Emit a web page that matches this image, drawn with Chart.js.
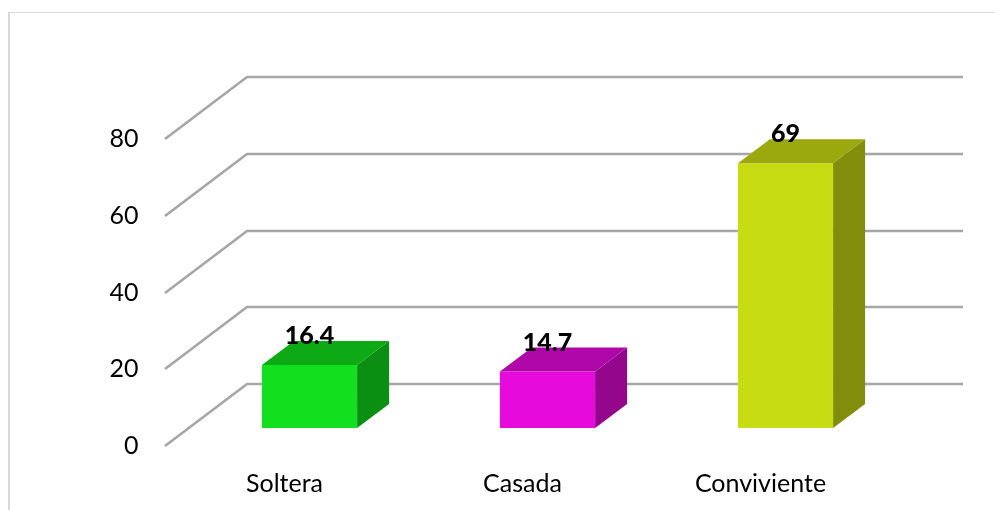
<!DOCTYPE html>
<html>
<head>
<meta charset="utf-8">
<script src="https://cdn.jsdelivr.net/npm/chart.js@4/dist/chart.umd.min.js"></script>
<style>
  html, body { margin: 0; padding: 0; background: #ffffff; }
  #wrap { width: 995px; height: 510px; position: relative; }
</style>
</head>
<body>
<div id="wrap"><canvas id="chart" width="995" height="510"></canvas></div>
<script>
// Estado civil (%)
const categories = ['Soltera', 'Casada', 'Conviviente'];
const values = [16.4, 14.7, 69];
const yTicks = [0, 20, 40, 60, 80];

// Face shades for each bar: front, top, side
const frontColors = ['#12E01E', '#E60ADC', '#C8DC14'];
const topColors = ['#0DAA16', '#B008A8', '#9BA90F'];
const sideColors = ['#0A8F13', '#94078C', '#838D0C'];

// Depth offsets of the pseudo-3D box, relative to the bar front plane
const FRONT = { dx: -25.5, dy: 18 };   // front edge of floor / walls
const BACK = { dx: 56.5, dy: -44 };    // back wall
const BAR_DEPTH = { dx: 32, dy: -24 }; // thickness of each bar

const FONT = 'Lato, "Open Sans", sans-serif';

const depthPlugin = {
  id: 'depth3d',
  beforeDraw(chart) {
    const ctx = chart.ctx;
    ctx.save();
    ctx.fillStyle = '#ffffff';
    ctx.fillRect(0, 0, chart.width, chart.height);
    // outer frame
    ctx.strokeStyle = '#D9D9D9';
    ctx.lineWidth = 1;
    ctx.beginPath();
    ctx.moveTo(9, 12.5);
    ctx.lineTo(chart.width, 12.5);
    ctx.stroke();
    ctx.lineWidth = 2;
    ctx.beginPath();
    ctx.moveTo(9, 12);
    ctx.lineTo(9, chart.height);
    ctx.stroke();
    ctx.restore();
  },
  beforeDatasetsDraw(chart) {
    const { ctx, chartArea } = chart;
    const ys = chart.scales.y;
    ctx.save();
    ctx.strokeStyle = '#A6A6A6';
    ctx.lineWidth = 2.6;
    ctx.lineCap = 'butt';
    ctx.lineJoin = 'miter';
    yTicks.forEach(v => {
      const py = Math.round(ys.getPixelForValue(v));
      ctx.beginPath();
      ctx.moveTo(Math.round(chartArea.left + FRONT.dx), py + FRONT.dy);
      ctx.lineTo(Math.round(chartArea.left + BACK.dx), py + BACK.dy);
      ctx.lineTo(Math.round(chartArea.right + BACK.dx + 2), py + BACK.dy);
      ctx.stroke();
    });
    ctx.restore();
  },
  afterDatasetsDraw(chart) {
    const ctx = chart.ctx;
    const meta = chart.getDatasetMeta(0);
    ctx.save();
    meta.data.forEach((bar, i) => {
      const { x, y, base, width } = bar.getProps(['x', 'y', 'base', 'width'], true);
      const l = x - width / 2;
      const r = x + width / 2;
      // top face
      ctx.fillStyle = topColors[i];
      ctx.beginPath();
      ctx.moveTo(l, y);
      ctx.lineTo(r, y);
      ctx.lineTo(r + BAR_DEPTH.dx, y + BAR_DEPTH.dy);
      ctx.lineTo(l + BAR_DEPTH.dx, y + BAR_DEPTH.dy);
      ctx.closePath();
      ctx.fill();
      // side face
      ctx.fillStyle = sideColors[i];
      ctx.beginPath();
      ctx.moveTo(r, y);
      ctx.lineTo(r + BAR_DEPTH.dx, y + BAR_DEPTH.dy);
      ctx.lineTo(r + BAR_DEPTH.dx, base + BAR_DEPTH.dy);
      ctx.lineTo(r, base);
      ctx.closePath();
      ctx.fill();
    });
    // value labels
    ctx.fillStyle = '#000000';
    ctx.font = '900 25px ' + FONT;
    ctx.textAlign = 'center';
    ctx.textBaseline = 'middle';
    meta.data.forEach((bar, i) => {
      ctx.fillText(String(values[i]), bar.x, bar.y - 29);
    });
    ctx.restore();
  }
};

new Chart(document.getElementById('chart'), {
  type: 'bar',
  data: {
    labels: categories,
    datasets: [{
      data: values,
      backgroundColor: frontColors,
      borderWidth: 0,
      categoryPercentage: 1,
      barPercentage: 0.4
    }]
  },
  options: {
    responsive: false,
    animation: false,
    devicePixelRatio: 1,
    layout: { padding: { top: 121, right: 90.5, left: 0, bottom: 0 } },
    plugins: { legend: { display: false }, tooltip: { enabled: false } },
    scales: {
      x: {
        grid: { display: false, drawTicks: false },
        border: { display: false },
        ticks: {
          color: '#000000',
          font: { family: FONT, size: 25 },
          padding: 41,
          labelOffset: -25,
          maxRotation: 0
        },
        afterFit(scale) { scale.height = 82; }
      },
      y: {
        min: 0,
        max: 80,
        grid: { display: false, drawTicks: false },
        border: { display: false },
        ticks: {
          stepSize: 20,
          color: '#000000',
          font: { family: FONT, size: 25 },
          padding: 52,
          labelOffset: 18
        },
        afterFit(scale) { scale.width = 190.5; }
      }
    }
  },
  plugins: [depthPlugin]
});
</script>
</body>
</html>
